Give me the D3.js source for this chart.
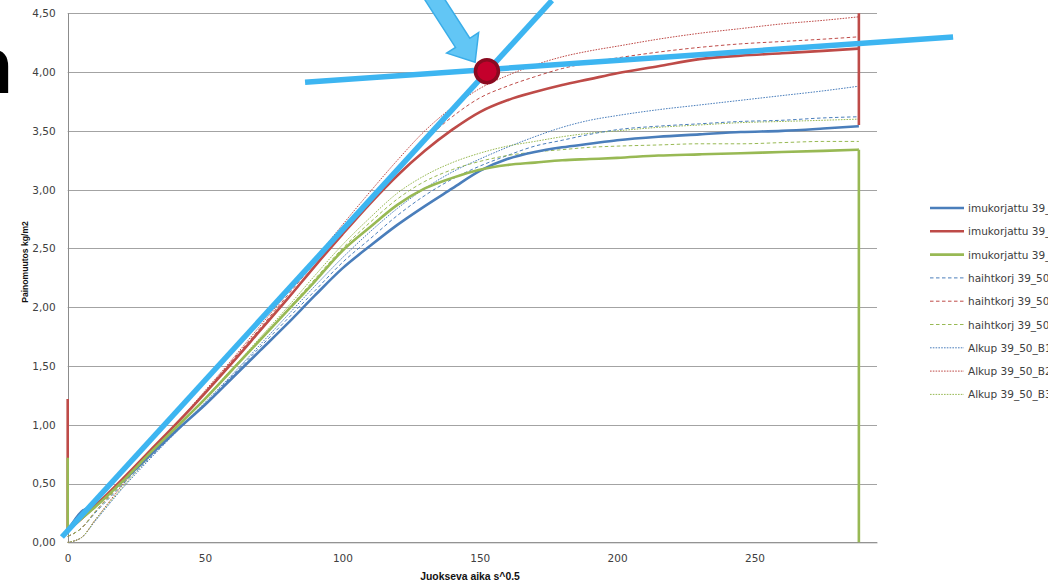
<!DOCTYPE html>
<html>
<head>
<meta charset="utf-8">
<script src="https://cdn.jsdelivr.net/npm/d3@7"></script>
<style>
  html, body { margin: 0; padding: 0; background: #fff; overflow: hidden; }
  svg { display: block; }
</style>
</head>
<body>
<svg id="chart" width="1048" height="583"></svg>
<script>
// Elapsed time (s^0.5) sample positions shared by every series
const timeSqrt = [0, 5, 10, 20, 30, 40, 50, 60, 70, 80, 90, 100, 110, 120, 130, 140,
                  150, 160, 170, 180, 190, 200, 215, 230, 245, 260, 275, 288];

// Mass change (kg/m2), absorption-corrected
const imuBlue  = [0.10, 0.26, 0.32, 0.52, 0.74, 0.96, 1.17, 1.40, 1.63, 1.86, 2.10, 2.33, 2.52, 2.70, 2.86, 3.01,
                  3.16, 3.26, 3.32, 3.36, 3.39, 3.42, 3.45, 3.47, 3.49, 3.50, 3.52, 3.54];
const imuRed   = [0.10, 0.20, 0.31, 0.54, 0.78, 1.02, 1.27, 1.53, 1.80, 2.07, 2.35, 2.62, 2.88, 3.12, 3.33, 3.51,
                  3.66, 3.76, 3.83, 3.89, 3.94, 3.99, 4.05, 4.11, 4.14, 4.16, 4.18, 4.20];
const imuGreen = [0.10, 0.20, 0.30, 0.52, 0.76, 0.99, 1.22, 1.47, 1.72, 1.97, 2.22, 2.48, 2.68, 2.87, 3.01, 3.10,
                  3.17, 3.21, 3.23, 3.25, 3.26, 3.27, 3.29, 3.30, 3.31, 3.32, 3.33, 3.34];

// Evaporation-corrected
const haiBlue  = [0.05, 0.12, 0.25, 0.49, 0.72, 0.95, 1.18, 1.42, 1.66, 1.90, 2.14, 2.38, 2.58, 2.78, 2.95, 3.09,
                  3.20, 3.29, 3.37, 3.42, 3.47, 3.51, 3.54, 3.56, 3.58, 3.59, 3.61, 3.62];
const haiRed   = [0.05, 0.12, 0.26, 0.52, 0.77, 1.02, 1.28, 1.55, 1.82, 2.10, 2.38, 2.66, 2.93, 3.19, 3.42, 3.62,
                  3.78, 3.88, 3.96, 4.03, 4.08, 4.12, 4.17, 4.21, 4.24, 4.26, 4.28, 4.30];
const haiGreen = [0.05, 0.12, 0.26, 0.50, 0.74, 0.98, 1.22, 1.47, 1.72, 1.98, 2.24, 2.50, 2.72, 2.92, 3.07, 3.17,
                  3.24, 3.29, 3.32, 3.34, 3.36, 3.37, 3.38, 3.39, 3.39, 3.40, 3.41, 3.41];

// Raw readings
const alkBlue  = [0.00, 0.04, 0.18, 0.46, 0.71, 0.95, 1.19, 1.43, 1.68, 1.93, 2.18, 2.42, 2.64, 2.84, 3.01, 3.15,
                  3.26, 3.36, 3.45, 3.53, 3.59, 3.63, 3.68, 3.72, 3.76, 3.80, 3.84, 3.88];
const alkRed   = [0.00, 0.04, 0.19, 0.49, 0.76, 1.02, 1.29, 1.56, 1.84, 2.12, 2.41, 2.70, 2.98, 3.25, 3.50, 3.70,
                  3.86, 3.97, 4.06, 4.13, 4.18, 4.22, 4.28, 4.33, 4.37, 4.41, 4.44, 4.47];
const alkGreen = [0.00, 0.04, 0.19, 0.47, 0.73, 0.98, 1.23, 1.48, 1.74, 2.00, 2.27, 2.53, 2.76, 2.97, 3.12, 3.23,
                  3.31, 3.37, 3.41, 3.45, 3.48, 3.50, 3.53, 3.55, 3.57, 3.58, 3.59, 3.60];

// Vertical jumps at the first and last reading of the corrected series
const redStartJump   = [[0, 1.22], [0, 0.10]];
const greenStartJump = [[0, 0.72], [0, 0.10]];
const redEndJump     = [[288, 4.20], [288, 4.60], [288, 3.55]];
const greenEndJump   = [[288, 3.34], [288, 0.00]];

const seriesNames = [
  "imukorjattu 39_50_B1", "imukorjattu 39_50_B2", "imukorjattu 39_50_B3",
  "haihtkorj 39_50_B1", "haihtkorj 39_50_B2", "haihtkorj 39_50_B3",
  "Alkup 39_50_B1", "Alkup 39_50_B2", "Alkup 39_50_B3"
];
const seriesValues = [imuBlue, imuRed, imuGreen, haiBlue, haiRed, haiGreen, alkBlue, alkRed, alkGreen];

const xTicks = [0, 50, 100, 150, 200, 250];
const yTicks = [0, 0.5, 1, 1.5, 2, 2.5, 3, 3.5, 4, 4.5];

// Construction lines: two tangents, their intersection and a pointer
const tangentRise    = [[-2.1, 0.045], [176.3, 4.61]];
const tangentPlateau = [[86.4, 3.914], [322.3, 4.298]];
const intersection   = [152.6, 4.008];
const pointerArrow   = [[131.2, 4.705], [148.3, 4.084]];

// ---- drawing ----
const svg = d3.select("#chart");
const plot = { left: 67.7, right: 877, top: 13.3, bottom: 542.3 };

const x = d3.scaleLinear().domain([0, 294.6]).range([plot.left, plot.right]);
const y = d3.scaleLinear().domain([0, 4.5]).range([plot.bottom, plot.top]);

const palette = ["#4A7EBB", "#BE4B48", "#98B954"];
const styleOf = i => {
  const group = Math.floor(i / 3);
  if (group === 0) return { color: palette[i % 3], width: 2.6, dash: null };
  if (group === 1) return { color: palette[i % 3], width: 1, dash: "3.5,2.5" };
  return { color: palette[i % 3], width: 1, dash: "1.6,1.2" };
};

const labelFont = "'DejaVu Sans', Verdana, sans-serif";

// horizontal gridlines
svg.append("g").selectAll("line").data(yTicks).join("line")
  .attr("x1", plot.left).attr("x2", plot.right)
  .attr("y1", d => Math.round(y(d)) + 0.5).attr("y2", d => Math.round(y(d)) + 0.5)
  .attr("stroke", "#a3a3a3").attr("stroke-width", 1);

// y axis line
svg.append("line")
  .attr("x1", Math.round(plot.left) + 0.5).attr("x2", Math.round(plot.left) + 0.5)
  .attr("y1", plot.top).attr("y2", plot.bottom)
  .attr("stroke", "#8c8c8c");

// axes labels through d3 axes (tick marks hidden)
const yAxis = d3.axisLeft(y).tickValues(yTicks).tickSize(0).tickPadding(12)
  .tickFormat(d => d3.format(".2f")(d).replace(".", ","));
svg.append("g").attr("transform", `translate(${plot.left},0)`).call(yAxis)
  .call(g => g.select(".domain").remove())
  .call(g => g.selectAll("text").attr("font-family", labelFont).attr("font-size", 10.5).attr("fill", "#404040"));

const xAxis = d3.axisBottom(x).tickValues(xTicks).tickSize(0).tickPadding(12).tickFormat(d3.format("d"));
svg.append("g").attr("transform", `translate(0,${plot.bottom})`).call(xAxis)
  .call(g => g.select(".domain").attr("stroke", "#8c8c8c"))
  .call(g => g.selectAll("text").attr("font-family", labelFont).attr("font-size", 10.5).attr("fill", "#404040"));

// axis titles
svg.append("text")
  .attr("transform", `translate(28, 262) rotate(-90)`)
  .attr("text-anchor", "middle")
  .attr("font-family", "'Liberation Sans', Arial, sans-serif")
  .attr("font-weight", "bold").attr("font-size", 8.6).attr("fill", "#111")
  .text("Painomuutos  kg/m2");

svg.append("text")
  .attr("x", 470).attr("y", 580)
  .attr("text-anchor", "middle")
  .attr("font-family", "'Liberation Sans', Arial, sans-serif")
  .attr("font-weight", "bold").attr("font-size", 10.4).attr("fill", "#111")
  .text("Juokseva aika s^0.5");

// clip for data lines
svg.append("clipPath").attr("id", "plotClip").append("rect")
  .attr("x", plot.left - 2).attr("y", plot.top).attr("width", plot.right - plot.left + 4).attr("height", plot.bottom - plot.top + 1);

const lineGen = d3.line().x(d => x(d[0])).y(d => y(d[1])).curve(d3.curveMonotoneX);
const straight = d3.line().x(d => x(d[0])).y(d => y(d[1]));

const dataLayer = svg.append("g").attr("clip-path", "url(#plotClip)");

// draw raw first, then evaporation-corrected, then corrected on top
const order = [6, 7, 8, 3, 4, 5, 0, 1, 2];
order.forEach(i => {
  const st = styleOf(i);
  const pts = timeSqrt.map((t, k) => [t, seriesValues[i][k]]);
  dataLayer.append("path")
    .attr("d", lineGen(pts))
    .attr("fill", "none").attr("stroke", st.color)
    .attr("stroke-width", st.width)
    .attr("stroke-dasharray", st.dash)
    .attr("stroke-linejoin", "round");
});

[[redStartJump, palette[1]], [redEndJump, palette[1]], [greenStartJump, palette[2]], [greenEndJump, palette[2]]]
  .forEach(([pts, c]) => {
    dataLayer.append("path").attr("d", straight(pts))
      .attr("fill", "none").attr("stroke", c).attr("stroke-width", 2.6);
  });

// legend
const legend = svg.append("g");
seriesNames.forEach((name, i) => {
  const st = styleOf(i);
  const ly = 208 + i * 23.3;
  legend.append("line")
    .attr("x1", 930).attr("x2", 964).attr("y1", ly).attr("y2", ly)
    .attr("stroke", st.color).attr("stroke-width", st.width)
    .attr("stroke-dasharray", st.dash);
  legend.append("text")
    .attr("x", 968).attr("y", ly + 4)
    .attr("font-family", labelFont).attr("font-size", 10.5).attr("fill", "#404040")
    .text(name);
});

// construction overlay
const overlayBlue = "#3DB5F1";
svg.append("path").attr("d", straight(tangentRise))
  .attr("stroke", overlayBlue).attr("stroke-width", 5.5).attr("fill", "none");
svg.append("path").attr("d", straight(tangentPlateau))
  .attr("stroke", overlayBlue).attr("stroke-width", 5.5).attr("fill", "none");

// pointer arrow
{
  const [t0, t1] = pointerArrow;
  const T = [x(t0[0]), y(t0[1])], P = [x(t1[0]), y(t1[1])];
  const len = Math.hypot(P[0] - T[0], P[1] - T[1]);
  const d = [(P[0] - T[0]) / len, (P[1] - T[1]) / len];
  const n = [-d[1], d[0]];
  const headLen = 23, headHalf = 19, shaftHalf = 8.5;
  const B = [P[0] - d[0] * headLen, P[1] - d[1] * headLen];
  const pt = (base, k) => [base[0] + n[0] * k, base[1] + n[1] * k];
  const poly = [pt(T, shaftHalf), pt(B, shaftHalf), pt(B, headHalf), P, pt(B, -headHalf), pt(B, -shaftHalf), pt(T, -shaftHalf)];
  svg.append("path")
    .attr("d", "M" + poly.map(p => p.join(",")).join("L") + "Z")
    .attr("fill", "#62C6F5").attr("stroke", "#3AADE8").attr("stroke-width", 1.5)
    .attr("stroke-linejoin", "miter");
}

svg.append("circle")
  .attr("cx", x(intersection[0])).attr("cy", y(intersection[1])).attr("r", 11.5)
  .attr("fill", "#C4002C").attr("stroke", "#8A0A20").attr("stroke-width", 3.5);

// title fragment at the upper-left edge
svg.append("text")
  .attr("x", 13).attr("y", 93)
  .attr("text-anchor", "end")
  .attr("font-family", "'Liberation Sans', Arial, sans-serif")
  .attr("font-weight", "bold").attr("font-size", 80).attr("fill", "#000")
  .text("n");
</script>
</body>
</html>
